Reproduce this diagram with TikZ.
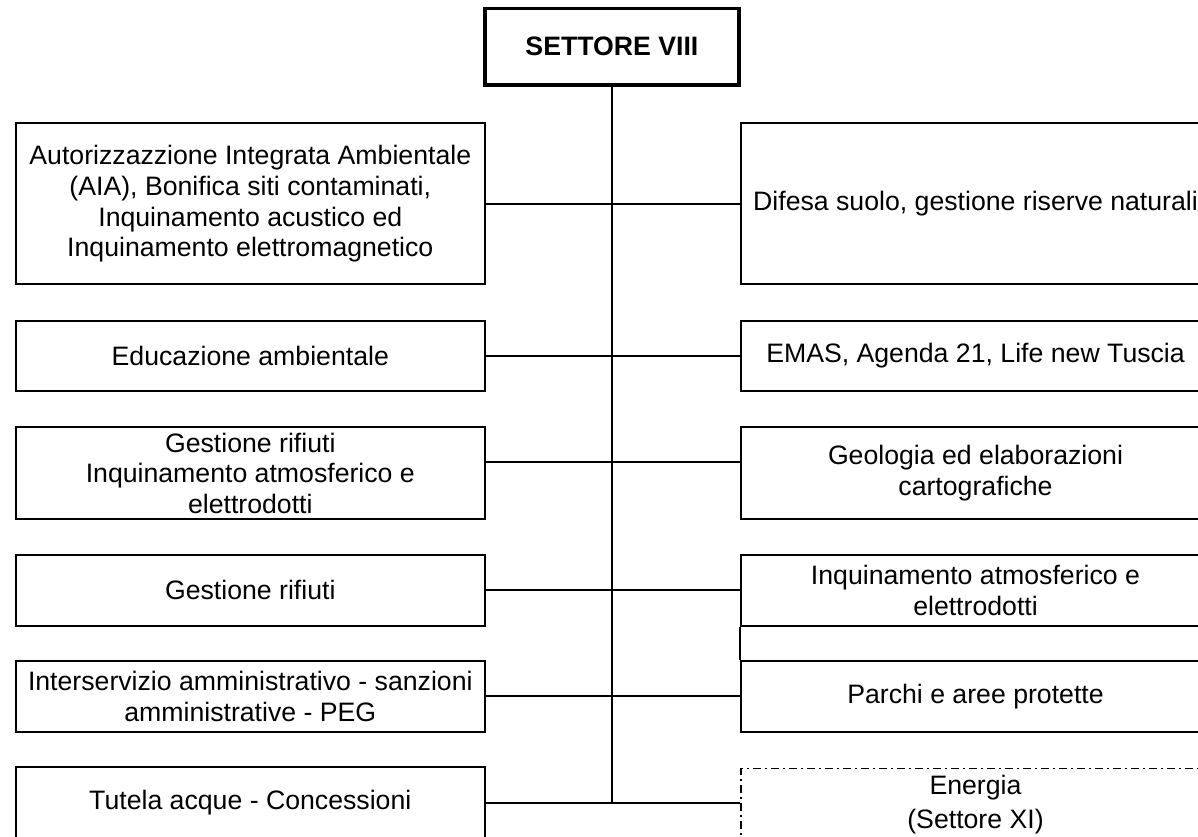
\documentclass[tikz,border=0pt]{standalone}
\usepackage{fontspec}
\setmainfont{Liberation Sans}

\begin{document}
\begin{tikzpicture}[x=0.75pt,y=-0.75pt,
  ufficio/.style={draw,line width=1.6pt,minimum width=351.75pt,align=center,inner sep=0pt,font=\fontsize{20}{23}\selectfont},
  linea/.style={line width=1.6pt}]
\useasboundingbox (0,0) rectangle (1198,836);
\clip (0,0) rectangle (1198,836);

\node[draw,line width=2.6pt,minimum width=190.7pt,minimum height=57.5pt,font=\fontsize{20}{23}\selectfont\bfseries] (settore) at (611.9,46.7) {SETTORE VIII};

\node[ufficio,minimum height=120.75pt] (aia) at (250.3,203.8) {Autorizzazzione Integrata Ambientale\\(AIA), Bonifica siti contaminati,\\Inquinamento acustico ed\\Inquinamento elettromagnetico};
\node[ufficio,minimum height=52.3pt] (educazione) at (250.3,355.9) {Educazione ambientale};
\node[ufficio,minimum height=69pt] (rifiuti) at (250.3,473.3) {Gestione rifiuti\\Inquinamento atmosferico e\\elettrodotti};
\node[ufficio,minimum height=53pt] (gestione) at (250.3,590.4) {Gestione rifiuti};
\node[ufficio,minimum height=53.25pt] (interservizio) at (250.3,696.2) {Interservizio amministrativo - sanzioni\\amministrative - PEG};
\node[ufficio,minimum height=54pt] (tutela) at (250.3,802.7) {Tutela acque - Concessioni};

\node[ufficio,minimum height=120.75pt] (difesa) at (975.5,203.8) {Difesa suolo, gestione riserve naturali};
\node[ufficio,minimum height=52.3pt] (emas) at (975.5,355.9) {EMAS, Agenda 21, Life new Tuscia};
\node[ufficio,minimum height=69pt] (geologia) at (975.5,473.3) {Geologia ed elaborazioni\\cartografiche};
\node[ufficio,minimum height=53pt] (inquinamento) at (975.5,590.4) {Inquinamento atmosferico e\\elettrodotti};
\node[ufficio,minimum height=53.25pt] (parchi) at (975.5,696.2) {Parchi e aree protette};
\node[ufficio,minimum height=54pt,line width=1pt,dash pattern=on 6pt off 3pt on 1.5pt off 3pt] (energia) at (975.5,804.5) {Energia\\[3pt](Settore XI)};

\draw[linea] (inquinamento.south west) -- (parchi.north west);

\coordinate (nodo3) at (612.7,461.7);
\draw[linea] (settore.south) -- (settore.south |- tutela.east);
\draw[linea] (aia.east) -- (difesa.west);
\draw[linea] (educazione.east) -- (emas.west);
\draw[linea] (nodo3 -| rifiuti.east) -- (nodo3 -| geologia.west);
\draw[linea] (gestione.east) -- (inquinamento.west);
\draw[linea] (interservizio.east) -- (parchi.west);
\draw[linea] (tutela.east) -- (tutela.east -| energia.west);
\end{tikzpicture}
\end{document}
